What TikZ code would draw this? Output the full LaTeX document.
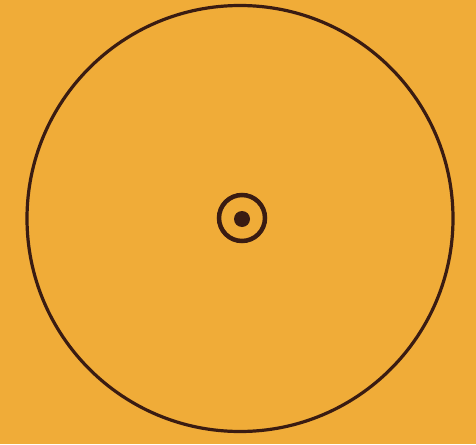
\documentclass[tikz,border=0pt]{standalone}
\definecolor{bg}{HTML}{F0AC38}
\definecolor{ink}{HTML}{3A1C12}
\begin{document}
\begin{tikzpicture}[x=1pt,y=-1pt,
  ringline/.style={draw=ink,line width=3.2pt}]
\fill[bg] (0,0) rectangle (476,444);
\useasboundingbox (0,0) rectangle (476,444);
\node[circle,ringline,minimum size=426pt,inner sep=0pt] (outer) at (240,218.5) {};
\node[circle,draw=ink,line width=4.5pt,minimum size=46pt,inner sep=0pt] (ring) at (242,218) {};
\node[circle,fill=ink,minimum size=16pt,inner sep=0pt] (dot) at (242,219) {};
\end{tikzpicture}
\end{document}
